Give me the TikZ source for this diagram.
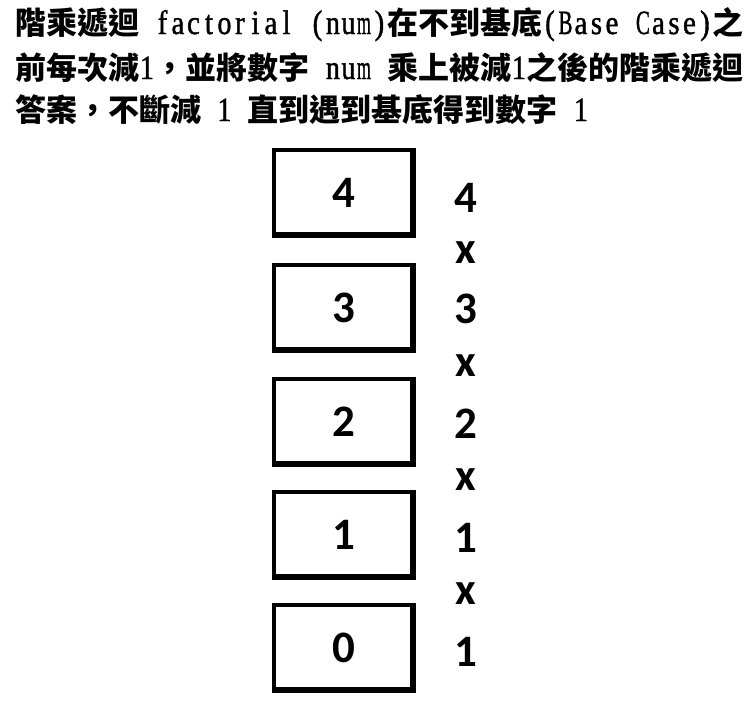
\documentclass[tikz,border=0pt]{standalone}
\usepackage{graphicx}
\usepackage{fontspec}
\setmainfont{Carlito}
\newfontfamily\cjkfont{Noto Sans CJK TC}
\newfontfamily\latinfont[FakeStretch=0.85,FakeBold=1.2]{Liberation Serif}
\newsavebox\chbox
\makeatletter
\newcommand\monochar[1]{\sbox\chbox{\latinfont\mdseries\fontsize{34}{34}\selectfont #1}%
  \ifdim\wd\chbox>14pt \makebox[15.5pt]{\resizebox{14pt}{\height}{\usebox\chbox}}%
  \else\makebox[15.5pt]{\usebox\chbox}\fi}
\def\monoloop#1{\ifx#1\relax\else\monochar{#1}\expandafter\monoloop\fi}
\newcommand\LT[1]{\monoloop#1\relax}
\makeatother
\begin{document}
\begin{tikzpicture}[x=1pt,y=-1pt,
  titleline/.style={anchor=base west,inner sep=0pt,font=\cjkfont\bfseries\fontsize{31}{31}\selectfont},
  stackbox/.style={draw,line width=4pt,minimum width=140pt,minimum height=86pt,inner sep=0pt,font=\bfseries\fontsize{45}{45}\selectfont},
  boxshade/.style={line width=2pt},
  rightnum/.style={inner sep=0pt,font=\bfseries\fontsize{45}{45}\selectfont},
  timessign/.style={inner sep=0pt,font=\bfseries\fontsize{45}{45}\selectfont}]
\useasboundingbox (0,0) rectangle (753,702);
\node[titleline] (l1) at (15,34) {階乘遞迴\LT{~factorial~(num)}在不到基底\LT{(Base~Case)}之};
\node[titleline] (l2) at (15,79) {前每次減\LT{1}，並將數字\LT{~num~}乘上被減\LT{1}之後的階乘遞迴};
\node[titleline] (l3) at (15,121) {答案，不斷減\LT{~1~}直到遇到基底得到數字\LT{~1}};
\foreach \v/\yy in {4/193,3/308,2/421.5,1/535,0/648}{
  \node[stackbox] (b\v) at (344,\yy) {\v};
  \draw[boxshade] ([xshift=-5pt,yshift=-4pt]b\v.north east) -- ([xshift=-5pt,yshift=5pt]b\v.south east) -- ([xshift=4pt,yshift=5pt]b\v.south west);
}
\node[rightnum] (r4) at (466,198) {4};
\node[rightnum] (r3) at (466,309) {3};
\node[rightnum] (r2) at (466,424) {2};
\node[rightnum] (r1) at (466,538) {1};
\node[rightnum] (r0) at (466,652) {1};
\node[timessign] (x1) at (466,253) {x};
\node[timessign] (x2) at (466,366) {x};
\node[timessign] (x3) at (466,480) {x};
\node[timessign] (x4) at (466,594) {x};
\end{tikzpicture}
\end{document}
